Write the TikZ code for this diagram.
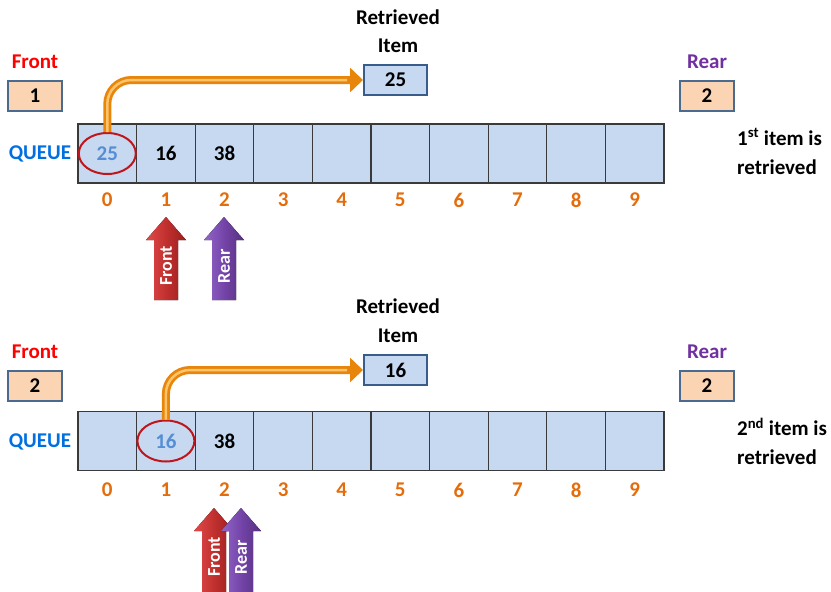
\documentclass[tikz,border=0pt]{standalone}
\usepackage{fontspec}
\setmainfont{Carlito}
\usetikzlibrary{arrows.meta,shapes.geometric}
\definecolor{cellfill}{HTML}{C6D9F1}
\definecolor{cellline}{HTML}{3A3A3A}
\definecolor{peach}{HTML}{FBD4B4}
\definecolor{boxline}{HTML}{4A6B8F}
\definecolor{retline}{HTML}{385D8A}
\definecolor{idxorange}{HTML}{E46C0A}
\definecolor{frontred}{HTML}{FF0000}
\definecolor{rearpurple}{HTML}{7030A0}
\definecolor{queueblue}{HTML}{0070E0}
\definecolor{circred}{HTML}{C0161B}
\definecolor{pickblue}{HTML}{558ED5}
\definecolor{arrowdark}{HTML}{E8860C}
\definecolor{arrowlight}{HTML}{FFC46A}
\definecolor{redA}{HTML}{E24A4A}
\definecolor{redB}{HTML}{C0302E}
\definecolor{redC}{HTML}{9A1E1E}
\definecolor{purA}{HTML}{9466C8}
\definecolor{purB}{HTML}{7444A8}
\definecolor{purC}{HTML}{55307F}

% upward block arrow with a rotated label: centre x, top y, bottom y, light, mid, dark, text, name
\newcommand\ptrarrow[8]{%
  \fill[left color=#4, right color=#6, middle color=#5]
    (#1-12,#3) -- (#1-12,#2+23) -- (#1-20,#2+23) -- (#1,#2)
    -- (#1+20,#2+23) -- (#1+12,#2+23) -- (#1+12,#3) -- cycle;
  \node[ptrtext] (#8) at (#1,#2+49) {#7};}

\begin{document}
\begin{tikzpicture}[x=1pt,y=-1pt,
  font=\bfseries\fontsize{21}{25}\selectfont,
  cell/.style={draw=cellline, line width=1.3pt, fill=cellfill,
    minimum width=58.6pt, minimum height=59pt, inner sep=0pt, outer sep=0pt},
  ptrbox/.style={draw=boxline, line width=2.4pt, fill=peach,
    minimum width=54pt, minimum height=30pt, inner sep=0pt},
  retbox/.style={draw=retline, line width=2pt, fill=cellfill,
    minimum width=63pt, minimum height=30pt, inner sep=0pt},
  idx/.style={text=idxorange, inner sep=0pt},
  pick/.style={ellipse, draw=circred, line width=2pt, minimum width=57pt,
    minimum height=41pt, inner sep=0pt, text=pickblue},
  fetch/.style={draw=arrowdark, line width=8pt, rounded corners=24pt,
    -{Triangle[width=24pt,length=13pt]}},
  fetchhi/.style={draw=arrowlight, line width=2.5pt, rounded corners=24pt,
    shorten >=16pt},
  ptrtext/.style={rotate=90, text=white, inner sep=0pt,
    font=\bfseries\fontsize{18}{20}\selectfont},
  note/.style={anchor=west, inner sep=0pt}]
\useasboundingbox (0,0) rectangle (831,592);

% ---------- first retrieval ----------
\node (ret1a) at (398,17) {Retrieved};
\node (ret1b) at (398,46) {Item};
\node[retbox] (r1) at (395.5,80) {25};

\node[text=frontred] (fl1) at (35,62) {Front};
\node[ptrbox] (fb1) at (35,96) {1};
\node[text=rearpurple] (rl1) at (707,62) {Rear};
\node[ptrbox] (rb1) at (707,96) {2};

\node[text=queueblue] (ql1) at (40,154) {QUEUE};
\foreach \i in {0,...,9}{
  \node[cell] (a\i) at ({107.3+58.6*\i},153.5) {};
  \node[idx] (ia\i) at ({107.3+58.6*\i},200) {\i};
}
\node (a1v) at (a1) {16};
\node (a2v) at (a2) {38};
\node[pick] (c1) at (a0) {25};

\node[note] (n1a) at (737,137) {1\textsuperscript{st} item is};
\node[note] (n1b) at (737,167) {retrieved};

\draw[fetch] (c1.north) |- (r1.west);
\draw[fetchhi] (c1.north) |- (r1.west);

\ptrarrow{166}{217}{300}{redA}{redB}{redC}{Front}{pf1}
\ptrarrow{224}{217}{300}{purA}{purB}{purC}{Rear}{pr1}

% ---------- second retrieval ----------
\node (ret2a) at (398,306) {Retrieved};
\node (ret2b) at (398,336) {Item};
\node[retbox] (r2) at (395.5,370) {16};

\node[text=frontred] (fl2) at (35,352) {Front};
\node[ptrbox] (fb2) at (35,386) {2};
\node[text=rearpurple] (rl2) at (707,352) {Rear};
\node[ptrbox] (rb2) at (707,386) {2};

\node[text=queueblue] (ql2) at (40,442) {QUEUE};
\foreach \i in {0,...,9}{
  \node[cell] (b\i) at ({107.3+58.6*\i},441) {};
  \node[idx] (ib\i) at ({107.3+58.6*\i},490) {\i};
}
\node (b2v) at (b2) {38};
\node[pick] (c2) at (b1) {16};

\node[note] (n2a) at (737,427) {2\textsuperscript{nd} item is};
\node[note] (n2b) at (737,457) {retrieved};

\draw[fetch] (c2.north) |- (r2.west);
\draw[fetchhi] (c2.north) |- (r2.west);

\ptrarrow{214}{508}{600}{redA}{redB}{redC}{Front}{pf2}
\ptrarrow{241}{508}{600}{purA}{purB}{purC}{Rear}{pr2}
\end{tikzpicture}
\end{document}
